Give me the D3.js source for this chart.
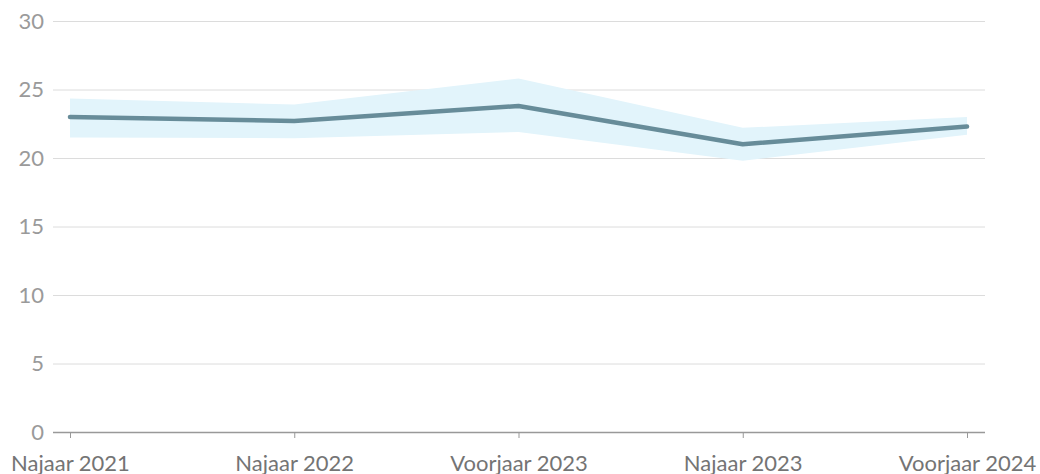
<!DOCTYPE html>
<html><head><meta charset="utf-8">
<script src="https://cdn.jsdelivr.net/npm/d3@7"></script>
<style>
body{margin:0;background:#fff;}
text{font-family:Lato, "Open Sans", sans-serif;}
</style></head>
<body><svg id="c" width="1040" height="474"></svg>
<script>
const categories = ["Najaar 2021","Najaar 2022","Voorjaar 2023","Najaar 2023","Voorjaar 2024"];
const values = [23.0, 22.7, 23.8, 21.0, 22.3];
const upper = [24.35, 23.9, 25.8, 22.2, 23.0];
const lower = [21.5, 21.45, 21.9, 19.8, 21.7];
const yTicks = [0,5,10,15,20,25,30];

(function(){
const svg = d3.select("#c");
const mLeft = 53, mRight = 985, mTop = 21, mBottom = 432;
const x = d3.scalePoint().domain(categories).range([70, 967]);
const y = d3.scaleLinear().domain([0,30]).range([mBottom, mTop]);

// grid
const yAxis = d3.axisLeft(y).tickValues(yTicks).tickSize(-(mRight-mLeft)).tickPadding(9);
const gy = svg.append("g").attr("transform",`translate(${mLeft},0)`).call(yAxis);
gy.select(".domain").remove();
gy.selectAll(".tick line").attr("stroke","#dcdcdc").attr("stroke-width",1);
gy.selectAll(".tick text").attr("fill","#9a9a9a").style("font-size","22px").attr("font-family","Lato");

// band
const area = d3.area().x((d,i)=>x(categories[i])).y0((d,i)=>y(lower[i])).y1((d,i)=>y(upper[i]));
svg.append("path").datum(values).attr("d",area).attr("fill","#e2f4fb");

// line
const line = d3.line().x((d,i)=>x(categories[i])).y(d=>y(d));
svg.append("path").datum(values).attr("d",line).attr("fill","none")
  .attr("stroke","#678c99").attr("stroke-width",4.5).attr("stroke-linecap","round").attr("stroke-linejoin","round");

// x axis
const xAxis = d3.axisBottom(x).tickSize(6).tickSizeOuter(0).tickPadding(17);
const gx = svg.append("g").attr("transform",`translate(0,${mBottom})`).call(xAxis);
gx.select(".domain").attr("d",`M${mLeft},0.5H${mRight}`).attr("stroke","#999").attr("stroke-width",1.5);
gx.selectAll(".tick line").attr("stroke","#999");
gx.selectAll(".tick text").attr("fill","#747474").style("font-size","22px").attr("font-family","Lato");
})();
</script></body></html>
